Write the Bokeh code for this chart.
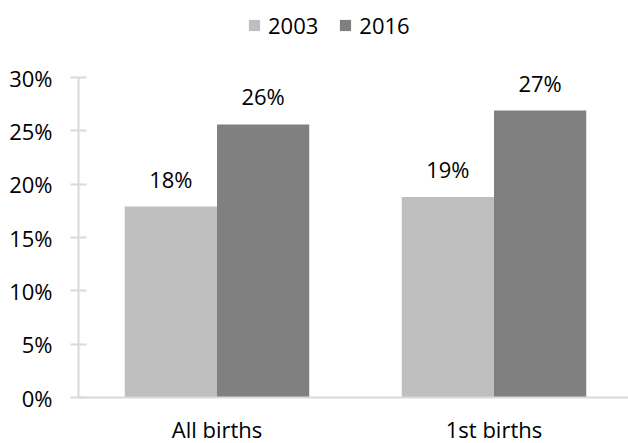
from bokeh.plotting import figure
from bokeh.models import (ColumnDataSource, Range1d, FixedTicker, NumeralTickFormatter,
                          Legend, LegendItem, LabelSet, Span)
from bokeh.core.properties import value
from bokeh.embed import file_html
from bokeh.resources import INLINE

# ---- data ----
categories = ["All births", "1st births"]
years = ["2003", "2016"]
share_2003 = [0.179, 0.188]
share_2016 = [0.256, 0.269]
y_ticks = [0.0, 0.05, 0.10, 0.15, 0.20, 0.25, 0.30]

# ---- style ----
FONT = "Open Sans"
FS = "22px"
TXT = "#000000"
C2003 = "#BFBFBF"
C2016 = "#808080"
AXIS_C = "#D9D9D9"

W, H = 628, 443
ML = 78
PX_PER_CAT = 277.0
BAR_W = 0.333
TOP_TICK_PX = 77.0     # canvas y of the top tick
ZERO_PX = 397.0        # canvas y of the zero line

frame_w = W - ML
px_per_unit = (ZERO_PX - TOP_TICK_PX) / (y_ticks[-1] - y_ticks[0])
y_min = -(H - ZERO_PX) / px_per_unit
y_max = y_ticks[-1] + TOP_TICK_PX / px_per_unit
centers = [i + 0.5 for i in range(len(categories))]

src = ColumnDataSource(data=dict(
    center=centers,
    cat=categories,
    zero=[0.0] * len(categories),
    x2003=[c - BAR_W / 2 for c in centers],
    x2016=[c + BAR_W / 2 for c in centers],
    v2003=share_2003,
    v2016=share_2016,
    l2003=[f"{v:.0%}" for v in share_2003],
    l2016=[f"{v:.0%}" for v in share_2016],
))

p = figure(width=W, height=H, output_backend="svg", toolbar_location=None,
           x_range=Range1d(0, frame_w / PX_PER_CAT), y_range=Range1d(y_min, y_max),
           x_axis_location=None,
           min_border_left=ML, min_border_right=0, min_border_top=0,
           min_border_bottom=0, outline_line_color=None,
           background_fill_color="white", border_fill_color="white")

r1 = p.vbar(x="x2003", top="v2003", bottom=0, width=BAR_W, source=src,
            fill_color=C2003, line_color=None)
r2 = p.vbar(x="x2016", top="v2016", bottom=0, width=BAR_W, source=src,
            fill_color=C2016, line_color=None)

# horizontal axis line at zero
p.add_layout(Span(location=0, dimension="width", line_color=AXIS_C, line_width=2))

# value labels
for xcol, lcol, vcol in (("x2003", "l2003", "v2003"), ("x2016", "l2016", "v2016")):
    p.add_layout(LabelSet(x=xcol, y=vcol, text=lcol, source=src, y_offset=28,
                          text_align="center", text_baseline="middle",
                          text_font=value(FONT), text_font_size=value(FS),
                          text_color=TXT))

# category labels under the zero line
p.add_layout(LabelSet(x="center", y="zero", text="cat", source=src, y_offset=-40,
                      text_align="center", text_baseline="alphabetic",
                      text_font=value(FONT), text_font_size=value(FS),
                      text_color=TXT))

p.xgrid.grid_line_color = None
p.ygrid.grid_line_color = None

# y axis (line and ticks only between the first and last tick)
p.yaxis.ticker = FixedTicker(ticks=y_ticks)
p.yaxis.bounds = (y_ticks[0], y_ticks[-1])
p.yaxis.formatter = NumeralTickFormatter(format="0%")
p.yaxis.axis_line_color = AXIS_C
p.yaxis.axis_line_width = 2
p.yaxis.major_tick_line_color = AXIS_C
p.yaxis.major_tick_line_width = 2
p.yaxis.major_tick_in = 8
p.yaxis.major_tick_out = 8
p.yaxis.minor_tick_line_color = None
p.yaxis.major_label_standoff = 18
p.yaxis.major_label_text_font = FONT
p.yaxis.major_label_text_font_size = FS
p.yaxis.major_label_text_color = TXT

legend = Legend(items=[LegendItem(label=years[0], renderers=[r1]),
                       LegendItem(label=years[1], renderers=[r2])],
                orientation="horizontal", location=(169, 403),
                glyph_width=14, glyph_height=14, label_standoff=7, spacing=20,
                padding=0, margin=0, border_line_color=None,
                background_fill_alpha=0,
                label_text_font=FONT, label_text_font_size=FS,
                label_text_color=TXT)
p.add_layout(legend, "center")

open("out.html", "w").write(file_html(p, INLINE))
